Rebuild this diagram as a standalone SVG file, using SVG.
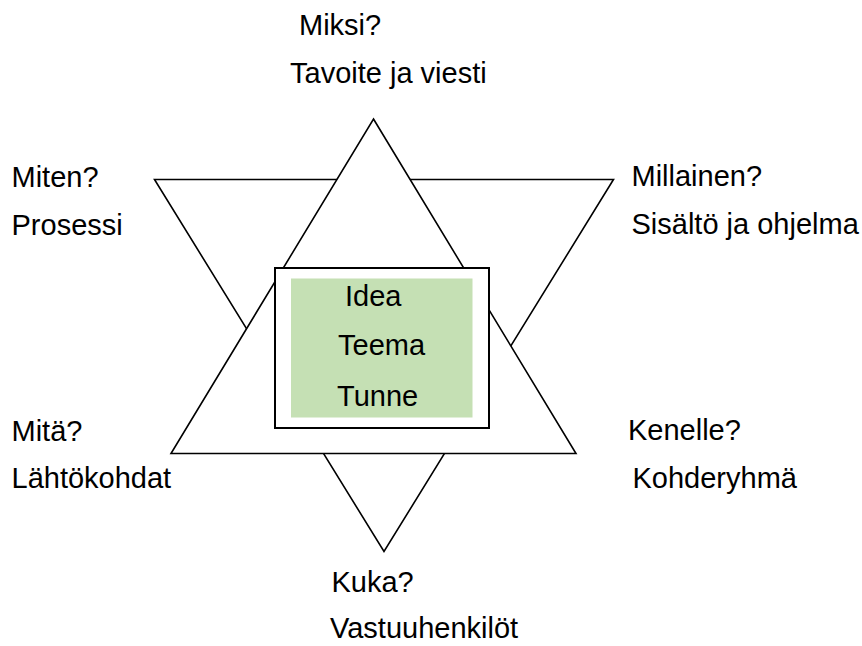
<svg xmlns="http://www.w3.org/2000/svg" width="862" height="646" viewBox="0 0 862 646">
<style>
.t{font-family:"Liberation Sans",Arial,sans-serif;font-size:29px;fill:#000}
.tri{fill:#fff;stroke:#000;stroke-width:1.6;stroke-linejoin:miter}
</style>
<rect width="862" height="646" fill="#fff"/>
<g id="shapes">
<polygon id="tri-down" class="tri" points="154.5,179.5 613.5,179.5 384,551.5"/>
<polygon id="tri-up" class="tri" points="373.5,119 576,453.5 171,453.5"/>
</g>
<g id="center">
<rect x="275" y="268" width="214" height="160" fill="#fff" stroke="#000" stroke-width="2"/>
<rect x="291" y="278.5" width="181.5" height="139" fill="#c5e0b4"/>
<text class="t" x="345" y="306">Idea</text>
<text class="t" x="338" y="355">Teema</text>
<text class="t" x="337" y="406">Tunne</text>
</g>
<g id="top"><text class="t" x="299" y="35">Miksi?</text><text class="t" x="290" y="83">Tavoite ja viesti</text></g>
<g id="topleft"><text class="t" x="11.5" y="187">Miten?</text><text class="t" x="11.5" y="235">Prosessi</text></g>
<g id="topright"><text class="t" x="631.5" y="186">Millainen?</text><text class="t" x="631.5" y="234">Sisältö ja ohjelma</text></g>
<g id="bottomleft"><text class="t" x="11.5" y="441">Mitä?</text><text class="t" x="11.5" y="488">Lähtökohdat</text></g>
<g id="bottomright"><text class="t" x="628" y="440">Kenelle?</text><text class="t" x="632.5" y="488">Kohderyhmä</text></g>
<g id="bottom"><text class="t" x="331.5" y="591.5">Kuka?</text><text class="t" x="330" y="638">Vastuuhenkilöt</text></g>
</svg>
